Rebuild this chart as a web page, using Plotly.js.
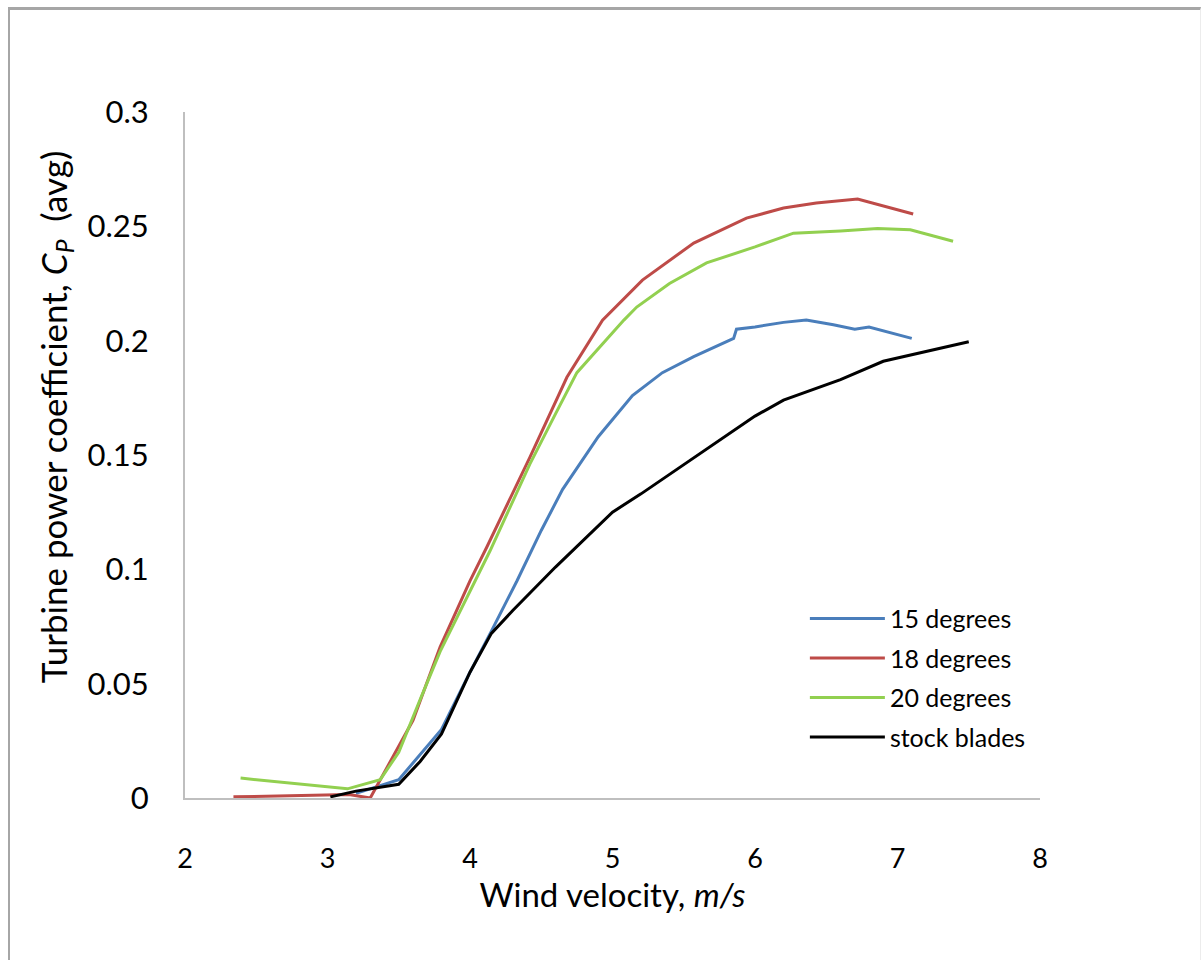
<!DOCTYPE html>
<html>
<head>
<meta charset="utf-8">
<script src="https://cdn.plot.ly/plotly-3.0.1.min.js"></script>
<style>
html, body { margin: 0; padding: 0; background: #ffffff; }
#wrap { position: relative; width: 1204px; height: 960px; }
#chart { position: absolute; left: 0; top: 0; width: 1204px; height: 960px; }
#frame { position: absolute; left: 8px; top: 7px; width: 1193px; height: 960px;
  border-top: 3px solid #a6a6a6; border-left: 2px solid #a6a6a6; border-right: 1px solid #ececec;
  pointer-events: none; box-sizing: border-box; }
</style>
</head>
<body>
<div id="wrap">
<div id="chart"></div>
<div id="frame"></div>
</div>
<script>
// Series names
const seriesNames = ["15 degrees", "18 degrees", "20 degrees", "stock blades"];

// 15 degrees
const x15 = [3.2, 3.5, 3.8, 4.0, 4.15, 4.33, 4.5, 4.65, 4.9, 5.14, 5.35, 5.57, 5.85, 5.87, 6.0, 6.2, 6.36, 6.55, 6.7, 6.8, 7.1];
const y15 = [0.002, 0.008, 0.030, 0.055, 0.073, 0.095, 0.117, 0.135, 0.158, 0.176, 0.186, 0.193, 0.201, 0.205, 0.206, 0.208, 0.209, 0.207, 0.205, 0.206, 0.201];

// 18 degrees
const x18 = [2.34, 2.8, 3.15, 3.3, 3.42, 3.6, 3.79, 4.0, 4.12, 4.42, 4.68, 4.93, 5.21, 5.57, 5.94, 6.2, 6.43, 6.72, 7.11];
const y18 = [0.0005, 0.001, 0.0015, 0.0, 0.0136, 0.034, 0.066, 0.095, 0.110, 0.149, 0.184, 0.209, 0.2265, 0.2427, 0.2536, 0.258, 0.2602, 0.2619, 0.2554];

// 20 degrees
const x20 = [2.39, 3.14, 3.37, 3.5, 3.65, 3.79, 4.14, 4.42, 4.6, 4.75, 5.08, 5.17, 5.4, 5.66, 6.0, 6.27, 6.6, 6.86, 7.09, 7.39];
const y20 = [0.0087, 0.004, 0.008, 0.020, 0.043, 0.064, 0.108, 0.146, 0.168, 0.186, 0.209, 0.2147, 0.225, 0.234, 0.241, 0.247, 0.248, 0.249, 0.2485, 0.2435];

// stock blades
const xStock = [3.02, 3.2, 3.5, 3.65, 3.8, 4.0, 4.15, 4.3, 4.6, 5.0, 5.2, 5.6, 6.0, 6.2, 6.6, 6.9, 7.5];
const yStock = [0.0005, 0.003, 0.006, 0.016, 0.028, 0.055, 0.072, 0.082, 0.101, 0.125, 0.133, 0.150, 0.167, 0.174, 0.183, 0.191, 0.1995];

// Axis ticks
const xTicks = [2, 3, 4, 5, 6, 7, 8];
const yTicks = [0, 0.05, 0.1, 0.15, 0.2, 0.25, 0.3];
const yTickText = ["0", "0.05", "0.1", "0.15", "0.2", "0.25", "0.3"];

// Titles
const xTitle = "Wind velocity, <i>m/s</i>";
const yTitle = "Turbine power coefficient, <i>C<sub>P</sub></i>  (avg)";

const colors = ["#4a7ebb", "#be4b48", "#92d050", "#000000"];
const xs = [x15, x18, x20, xStock];
const ys = [y15, y18, y20, yStock];

const FONT = "Lato, 'Open Sans', sans-serif";

const traces = seriesNames.map((name, i) => ({
  type: "scatter",
  mode: "lines",
  name: name,
  x: xs[i],
  y: ys[i],
  legendgroup: "g" + i,
  line: { color: colors[i], width: 3 },
  hoverinfo: "x+y+name"
}));

const layout = {
  width: 1204,
  height: 960,
  margin: { l: 185, r: 164, t: 112, b: 162 },
  paper_bgcolor: "rgba(0,0,0,0)",
  plot_bgcolor: "#ffffff",
  font: { family: FONT, color: "#000000", size: 28 },
  showlegend: true,
  legend: {
    x: 0.725, y: 0.295, xanchor: "left", yanchor: "top",
    bgcolor: "rgba(0,0,0,0)",
    font: { family: FONT, size: 25, color: "#000000" },
    itemwidth: 75,
    tracegroupgap: 4,
    traceorder: "grouped"
  },
  xaxis: {
    range: [2, 8],
    tickvals: xTicks,
    ticktext: xTicks.map(String),
    showgrid: false,
    zeroline: false,
    showline: true,
    linecolor: "#bfbfbf",
    linewidth: 2,
    ticks: "",
    ticklabelstandoff: 36,
    tickfont: { family: FONT, size: 27, color: "#000000" },
    title: { text: xTitle, font: { family: FONT, size: 33, color: "#000000" }, standoff: 2 }
  },
  yaxis: {
    range: [0, 0.3],
    tickvals: yTicks,
    ticktext: yTickText,
    showgrid: false,
    zeroline: false,
    showline: true,
    linecolor: "#bfbfbf",
    linewidth: 2,
    ticks: "",
    ticklabelstandoff: 28,
    tickfont: { family: FONT, size: 31, color: "#000000" }
  },
  annotations: [{
    text: yTitle,
    xref: "paper", yref: "paper",
    x: -0.152, y: 0.555,
    xanchor: "center", yanchor: "middle",
    textangle: -90,
    showarrow: false,
    font: { family: FONT, size: 35, color: "#000000" }
  }]
};

Plotly.newPlot("chart", traces, layout, { displayModeBar: false, responsive: false });
</script>
</body>
</html>
